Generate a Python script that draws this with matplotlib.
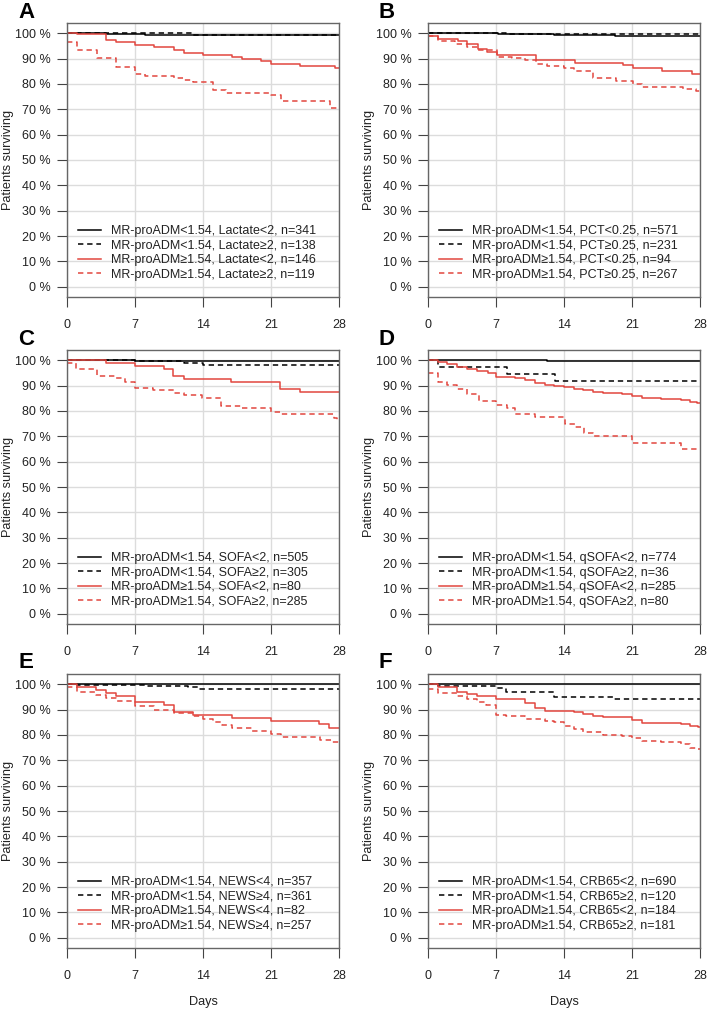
import matplotlib
matplotlib.use("Agg")
import matplotlib.pyplot as plt

plt.rcParams['font.family'] = ['Liberation Sans', 'DejaVu Sans']

day_ticks = [0, 7, 14, 21, 28]
pct_ticks = [0, 10, 20, 30, 40, 50, 60, 70, 80, 90, 100]
pct_labels = [f"{v} %" for v in pct_ticks]
letters = ['A', 'B', 'C', 'D', 'E', 'F']

lo = "MR-proADM<1.54, "
hi = "MR-proADM\u22651.54, "

# A: lactate
a_labels = [lo + "Lactate<2, n=341", lo + "Lactate\u22652, n=138",
            hi + "Lactate<2, n=146", hi + "Lactate\u22652, n=119"]
a_days = [[0, 4, 8, 13],
          [0, 13],
          [0, 1, 4, 5, 7, 9, 11, 12, 14, 17, 18, 20, 21, 24, 27.6],
          [0, 1, 3.1, 5, 7, 8, 11, 12, 13, 15, 16.4, 21, 22, 27.1]]
a_surv = [[100, 99.7, 99.4, 99.1],
          [100, 99.3],
          [100, 99.5, 97.2, 96.7, 95.3, 94.6, 93.3, 92.1, 91.3, 90.5, 89.9, 89.2, 87.9, 87.1, 86.4],
          [96.7, 93.4, 90.1, 86.6, 84.0, 83.2, 82.4, 81.6, 80.8, 77.5, 76.6, 75.8, 73.3, 70.5]]

# B: PCT
b_labels = [lo + "PCT<0.25, n=571", lo + "PCT\u22650.25, n=231",
            hi + "PCT<0.25, n=94", hi + "PCT\u22650.25, n=267"]
b_days = [[0, 7.2, 13, 19.2],
          [0, 8, 19],
          [0, 1, 3.1, 4, 5.1, 6.1, 7.1, 11.1, 15.1, 20.1, 21.1, 24.1, 27.2],
          [0, 1, 2.8, 4, 5.1, 7.1, 8.6, 10, 11.1, 12.2, 14, 15, 17, 19.4, 21.1, 22, 26.2, 27.6]]
b_surv = [[100, 99.6, 99.3, 98.9],
          [100, 99.8, 99.5],
          [98.8, 97.8, 96.8, 95.7, 93.6, 92.5, 91.4, 89.5, 88.4, 87.4, 86.2, 85.1, 84.0],
          [99.0, 97.1, 95.9, 94.5, 93.2, 90.7, 90.1, 89.3, 88.0, 87.2, 86.2, 85.1, 82.4, 81.3,
           80.0, 78.9, 78.0, 77.1]]

# C: SOFA
c_labels = [lo + "SOFA<2, n=505", lo + "SOFA\u22652, n=305",
            hi + "SOFA<2, n=80", hi + "SOFA\u22652, n=285"]
c_days = [[0, 7],
          [0, 7, 12, 14],
          [0, 4, 7, 10, 10.9, 12, 16.9, 21.9, 24],
          [0, 0.9, 3.1, 5, 6, 7, 8.9, 11, 12, 13.9, 15.9, 17.9, 21, 22, 27.5, 27.8]]
c_surv = [[100, 99.8],
          [100, 99.7, 98.9, 98.1],
          [100, 98.9, 97.5, 96.4, 93.7, 92.4, 91.3, 88.7, 87.5],
          [99.0, 96.7, 93.7, 92.8, 91.3, 89.2, 88.3, 87.1, 86.3, 85.1, 82.1, 81.1, 79.7, 78.7,
           77.1, 76.4]]

# D: qSOFA
d_labels = [lo + "qSOFA<2, n=774", lo + "qSOFA\u22652, n=36",
            hi + "qSOFA<2, n=285", hi + "qSOFA\u22652, n=80"]
d_days = [[0, 7.2, 12.2, 19.1],
          [0, 1, 8.1, 13.1],
          [0, 1, 2, 3, 4, 5, 6.2, 7, 9, 10, 11, 12, 13, 14, 15, 16, 17, 18, 20, 21, 22, 24, 26,
           27, 27.7],
          [0, 1, 2, 3, 4, 5.2, 7, 8.1, 9, 11, 14.1, 15.1, 16.1, 17, 21, 26]]
d_surv = [[100, 99.9, 99.7, 99.5],
          [100, 97.2, 94.4, 91.7],
          [100, 99.1, 98.4, 97.2, 96.5, 95.6, 95.1, 93.5, 93.0, 92.1, 91.1, 90.3, 89.8, 89.4,
           88.7, 88.1, 87.5, 87.0, 86.6, 86.0, 85.0, 84.6, 84.2, 83.6, 83.0],
          [95.0, 91.5, 90.2, 88.6, 86.6, 83.8, 82.5, 81.3, 78.8, 77.5, 75.0, 73.8, 71.3, 70.0,
           67.5, 65.0]]

# E: NEWS
e_labels = [lo + "NEWS<4, n=357", lo + "NEWS\u22654, n=361",
            hi + "NEWS<4, n=82", hi + "NEWS\u22654, n=257"]
e_days = [[0],
          [0, 1, 8, 12.5, 13.5],
          [0, 1, 3, 4, 5, 7, 10, 11, 13, 17, 21, 25.9, 27],
          [0, 1, 3, 4, 5, 7, 9, 11, 13, 14, 15, 16, 17, 19, 21, 22, 26, 27.3]]
e_surv = [[100],
          [100, 99.7, 99.4, 98.7, 98.1],
          [100, 98.9, 97.6, 96.4, 95.2, 92.8, 91.6, 89.1, 88.0, 86.7, 85.3, 84.3, 82.9],
          [98.7, 97.1, 95.6, 94.4, 93.3, 91.2, 90.0, 88.7, 87.5, 86.3, 85.2, 84.0, 82.8, 81.7,
           80.4, 79.3, 78.1, 77.0]]

# F: CRB65
f_labels = [lo + "CRB65<2, n=690", lo + "CRB65\u22652, n=120",
            hi + "CRB65<2, n=184", hi + "CRB65\u22652, n=181"]
f_days = [[0],
          [0, 1, 7, 8, 13, 19],
          [0, 1, 3, 4, 5, 7, 10, 11, 12, 15, 16, 17, 18, 21, 22, 26, 27, 27.8],
          [0, 1, 3, 4, 5, 6, 7, 8, 10, 12, 13, 14, 15, 16, 18, 20, 21, 22, 24, 26, 27, 27.8]]
f_surv = [[100],
          [100, 99.2, 98.4, 96.8, 95.1, 94.1],
          [100, 98.7, 97.0, 96.1, 95.2, 94.1, 92.4, 90.7, 89.6, 89.0, 88.1, 87.6, 87.0, 86.0,
           84.8, 84.3, 83.5, 83.0],
          [98.0, 96.4, 95.2, 94.0, 92.8, 91.6, 88.0, 87.3, 86.3, 85.6, 85.0, 83.6, 82.3, 81.3,
           80.0, 79.5, 78.7, 77.6, 77.2, 76.4, 75.0, 74.5]]

panels = [(a_labels, a_days, a_surv), (b_labels, b_days, b_surv),
          (c_labels, c_days, c_surv), (d_labels, d_days, d_surv),
          (e_labels, e_days, e_surv), (f_labels, f_days, f_surv)]

red = '#E2463F'
colors = ['black', 'black', red, red]
styles = ['-', '--', '-', '--']

fig = plt.figure(figsize=(7.09, 10.10), dpi=100)
W, H = 709, 1010
lefts = [67, 428]
tops = [23, 350, 674]
aw, ah = 272, 274

for i, (labels, days, surv) in enumerate(panels):
    col, row = i % 2, i // 2
    ax = fig.add_axes([lefts[col] / W, 1 - (tops[row] + ah) / H, aw / W, ah / H])
    for k in range(4):
        t = list(days[k]) + [28]
        s = list(surv[k]) + [surv[k][-1]]
        line, = ax.step(t, s, where='post', color=colors[k], lw=1.1,
                        ls=styles[k], label=labels[k])
        if styles[k] == '--':
            line.set_dashes((3.5, 2.5))
    ax.set_xlim(0, 28)
    ax.set_ylim(-4, 104)
    ax.set_xticks(day_ticks)
    ax.set_yticks(pct_ticks)
    ax.set_yticklabels(pct_labels)
    ax.grid(True, color='#dcdcdc', lw=1.0)
    ax.set_axisbelow(True)
    for sp in ax.spines.values():
        sp.set_color('#666666')
        sp.set_linewidth(1.0)
    ax.tick_params(axis='both', colors='#444444', labelcolor='#222222', labelsize=9,
                   length=7, width=0.8, pad=5)
    ax.tick_params(axis='x', pad=9)
    fig.text((lefts[col] - 59) / W, 1 - (tops[row] + ah / 2) / H, "Patients surviving",
             fontsize=9.2, rotation=90, ha='center', va='center', color='#222222')
    if row == 2:
        fig.text((lefts[col] + aw / 2) / W, 1 - 1002 / H, "Days", fontsize=9.2,
                 ha='center', va='center', color='#222222')
    ax.legend(loc='lower left', bbox_to_anchor=(0.04, 0.06), frameon=False,
              fontsize=9, handlelength=1.85, handletextpad=0.8,
              labelspacing=0.2, borderpad=0, borderaxespad=0, labelcolor='#222222')
    fig.text((lefts[col] - 49) / W, 1 - (tops[row] - 11) / H, letters[i],
             fontsize=16, fontweight='bold', va='center', ha='left')

fig.savefig("out.png", dpi=100)
